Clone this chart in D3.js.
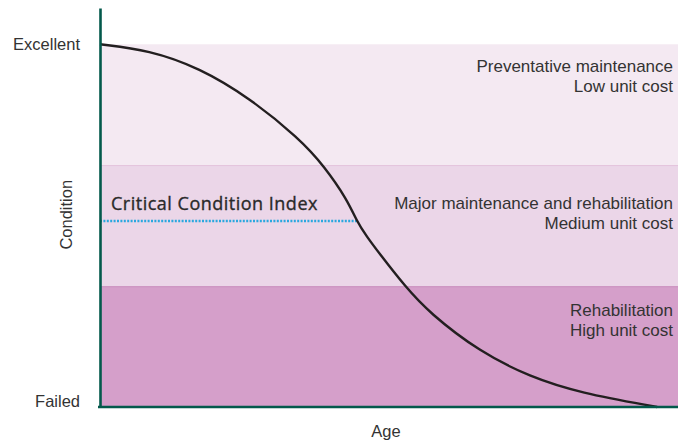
<!DOCTYPE html>
<html>
<head>
<meta charset="utf-8">
<script src="https://cdn.jsdelivr.net/npm/d3@7"></script>
<style>
  body { margin: 0; background: #fff; }
  svg text { font-family: "Liberation Sans", Arial, sans-serif; fill: #333; }
  .cci { font-family: "Open Sans", sans-serif; }
</style>
</head>
<body>
<svg id="chart" width="678" height="443"></svg>
<script>
// condition bands (condition index, 0 = failed, 100 = excellent)
const bandNames = ["Rehabilitation", "Major maintenance and rehabilitation", "Preventative maintenance"];
const bandCosts = ["High unit cost", "Medium unit cost", "Low unit cost"];
const bandFrom = [0, 33.3, 66.7];
const bandTo = [33.3, 66.7, 100];

// deterioration curve
const curveAge = [0, 8.5, 17.2, 25.8, 34.5, 38.8, 42.8, 44.4, 46.1, 48.4, 52.7, 57.0, 65.7, 74.4, 83.0, 96.4];
const curveCond = [100, 98.4, 93.5, 85.3, 74.0, 66.4, 57.1, 51.3, 47.1, 42.2, 33.4, 25.9, 15.2, 8.3, 3.9, 0];

const criticalIndex = 51.3;
const criticalAge = 44.4;
const yTickValues = [0, 100];
const yTickLabels = ["Failed", "Excellent"];

const svg = d3.select('#chart');
const width = 678, height = 443;
const margin = { top: 8, right: 0, bottom: 36, left: 100 };
const innerWidth = width - margin.left - margin.right;
const innerHeight = height - margin.top - margin.bottom;

const xScale = d3.scaleLinear().domain([0, 100]).range([0, innerWidth]);
const yScale = d3.scaleLinear().domain([0, 110]).range([innerHeight, 0]);

const g = svg.append('g')
    .attr('transform', `translate(${margin.left},${margin.top})`);

const bandColors = ["#d59fca", "#ebd6e8", "#f4e9f2"];
const edgeColors = ["#c98ebe", "#e3c4dd", "none"];
const bands = bandNames.map((n, i) => ({ name: n, cost: bandCosts[i], from: bandFrom[i], to: bandTo[i] }));

g.selectAll('rect.band')
    .data(bands)
    .enter().append('rect')
    .attr('class', 'band')
    .attr('x', 0)
    .attr('width', innerWidth)
    .attr('y', d => yScale(d.to))
    .attr('height', d => yScale(d.from) - yScale(d.to))
    .attr('fill', (d, i) => bandColors[i]);

// thin edge at top of the two lower bands
g.selectAll('line.edge')
    .data(bands.slice(0, 2))
    .enter().append('line')
    .attr('x1', 0).attr('x2', innerWidth)
    .attr('y1', d => yScale(d.to) + 0.5).attr('y2', d => yScale(d.to) + 0.5)
    .attr('stroke', (d, i) => edgeColors[i])
    .attr('stroke-width', 1);

// band labels, right aligned
const labelOffset = [30, 44, 28];
const labels = g.selectAll('g.lab')
    .data(bands)
    .enter().append('g')
    .attr('transform', (d, i) => `translate(${innerWidth - 5},${yScale(d.to) + labelOffset[i]})`);
labels.append('text')
    .attr('text-anchor', 'end')
    .style('font-size', '17px')
    .text(d => d.name);
labels.append('text')
    .attr('text-anchor', 'end')
    .attr('y', 20)
    .style('font-size', '17px')
    .text(d => d.cost);

// critical condition index
g.append('line')
    .attr('x1', 0).attr('x2', xScale(criticalAge))
    .attr('y1', yScale(criticalIndex)).attr('y2', yScale(criticalIndex))
    .attr('stroke', '#2aa8df')
    .attr('stroke-width', 2.5)
    .attr('stroke-dasharray', '2,1.4');
g.append('text')
    .attr('class', 'cci')
    .attr('x', 11)
    .attr('y', yScale(criticalIndex) - 11)
    .style('font-size', '18px')
    .style('letter-spacing', '0.5px')
    .style('fill', '#2a2a2a')
    .style('stroke', '#2a2a2a')
    .style('stroke-width', 0.35)
    .text('Critical Condition Index');

// curve
const pts = curveAge.map((a, i) => [a, curveCond[i]]);
const line = d3.line()
    .x(d => xScale(d[0]))
    .y(d => yScale(d[1]))
    .curve(d3.curveBasis);
g.append('path')
    .datum(pts)
    .attr('d', line)
    .attr('fill', 'none')
    .attr('stroke', '#231f20')
    .attr('stroke-width', 2.4);

// axes
const yAxis = d3.axisLeft(yScale)
    .tickValues(yTickValues)
    .tickFormat((d, i) => yTickLabels[i])
    .tickSize(0)
    .tickSizeOuter(0)
    .tickPadding(20);
const gY = g.append('g').call(yAxis);
gY.selectAll('text')
    .style('font-size', '16.5px')
    .style('font-family', '"Liberation Sans", Arial, sans-serif')
    .attr('fill', '#333')
    .attr('dy', (d, i) => i === 0 ? '-0.06em' : '0.3em');
gY.select('.domain').attr('stroke', '#03594b').attr('stroke-width', 2.6);

const xAxis = d3.axisBottom(xScale).tickValues([]).tickSizeOuter(0);
const gX = g.append('g').attr('transform', `translate(0,${innerHeight})`).call(xAxis);
gX.select('.domain').attr('stroke', '#03594b').attr('stroke-width', 2.6)
    .attr('d', `M-2,0H${innerWidth}`);

g.append('text')
    .attr('text-anchor', 'middle')
    .attr('x', innerWidth / 2 - 3)
    .attr('y', innerHeight + 30)
    .style('font-size', '16.5px')
    .text('Age');
g.append('text')
    .attr('text-anchor', 'middle')
    .attr('transform', `translate(${-28},${yScale(53)}) rotate(-90)`)
    .style('font-size', '16.5px')
    .text('Condition');
</script>
</body>
</html>
